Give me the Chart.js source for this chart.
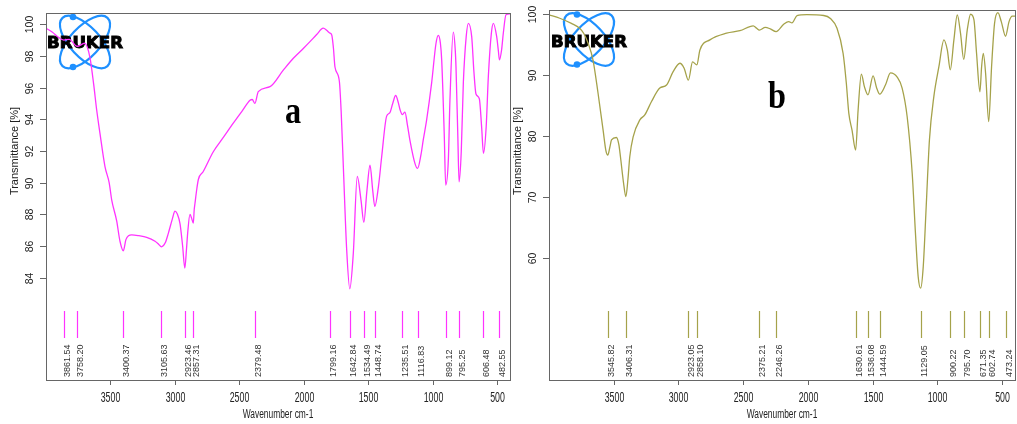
<!DOCTYPE html>
<html>
<head>
<meta charset="utf-8">
<title>FTIR spectra a / b</title>
<script src="https://cdn.jsdelivr.net/npm/chart.js@4.4.1/dist/chart.umd.min.js"></script>
<style>
body{margin:0;background:#fff;}
#wrap{position:relative;width:1017px;height:424px;overflow:hidden;background:#fff;}
canvas{position:absolute;top:0;}
</style>
</head>
<body>
<div id="wrap">
<canvas id="chart_a" width="512" height="424" style="left:0"></canvas>
<canvas id="chart_b" width="505" height="424" style="left:512px"></canvas>
</div>
<script>
// spectrum a
var wavenumber_a = [4000,3950,3907,3861,3820,3758,3700,3659,3630,3607,3581,3542,3510,3490,3452,3426,3400,3380,3360,3335,3280,3219,3154,3125,3105,3075,3051,3020,2999,2980,2960,2940,2923,2910,2901,2883,2872,2857,2850,2844,2830,2818,2780,2702,2620,2547,2480,2417,2400,2379,2353,2262,2159,2081,2000,1952,1900,1849,1820,1799,1783,1770,1758,1724,1710,1693,1667,1643,1616,1585,1556,1534,1510,1486,1465,1449,1420,1396,1357,1333,1310,1287,1265,1253,1235,1215,1195,1177,1137,1117,1090,1073,1047,1008,974,956,940,930,910,899,878,866,840,825,819,805,795,778,762,740,723,697,680,664,638,620,606,585,568,545,529,503,490,482,465,452,431,400];
var transmittance_a = [99.75,99.5,99.2,99.0,99.05,98.6,98.8,97.9,96.2,94.6,93.1,91.0,90.0,88.9,87.6,86.3,85.7,86.4,86.65,86.7,86.65,86.55,86.3,86.1,85.95,86.2,86.8,87.7,88.2,88.0,87.4,86.0,84.6,85.8,86.8,88.0,87.8,87.45,88.3,88.7,89.6,90.2,90.7,91.95,92.9,93.75,94.5,95.2,95.25,95.0,95.75,96.06,97.1,97.85,98.5,98.9,99.35,99.75,99.6,99.45,99.32,98.5,97.3,96.4,94.5,91.0,85.75,83.3,85.5,90.4,88.9,87.5,89.5,91.1,89.5,88.5,89.8,91.6,94.2,94.4,95.0,95.5,95.0,94.6,94.3,94.45,93.6,92.7,91.2,90.9,91.8,92.7,93.95,96.3,98.8,99.3,98.8,97.75,93.0,89.85,91.5,95.2,99.5,98.4,97.3,93.0,90.05,92.0,96.3,99.2,100.06,99.2,97.0,95.6,95.3,93.5,91.85,93.5,96.7,99.4,100.06,99.2,98.3,97.75,98.4,99.43,100.6,100.65];
var peaks_a = [3861.54,3758.20,3400.37,3105.63,2923.46,2857.31,2379.48,1799.16,1642.84,1534.49,1448.74,1235.51,1116.83,899.12,795.25,606.48,482.55];

// spectrum b
var wavenumber_b = [4000,3917,3827,3763,3730,3698,3660,3621,3582,3560,3546,3530,3517,3479,3460,3448,3425,3406,3390,3376,3350,3298,3260,3208,3144,3092,3041,2989,2956,2923,2891,2858,2834,2757,2628,2525,2422,2396,2375,2329,2290,2246,2187,2148,2123,2084,2007,1878,1826,1775,1728,1703,1684,1659,1631,1612,1587,1563,1536,1496,1470,1445,1401,1362,1310,1272,1233,1194,1169,1148,1129,1109,1086,1061,1027,988,949,923,900,872,846,821,796,769,743,717,697,671,658,645,627,603,581,558,532,506,473,446,421,400];
var transmittance_b = [99.9,99.35,98.5,97.7,96.8,95.25,92.5,87.05,81.0,77.6,76.9,78.2,79.4,79.8,78.6,76.65,72.5,70.1,73.0,76.65,79.9,82.7,83.5,85.7,87.9,88.4,90.6,91.97,91.15,89.2,92.2,91.7,94.15,95.8,96.9,97.3,98.1,97.7,97.4,97.85,97.6,97.15,98.35,98.8,98.6,99.77,99.93,99.8,99.3,97.7,93.6,88.7,83.8,81.0,77.75,84.3,90.2,88.1,86.8,89.9,88.0,86.9,88.4,90.4,89.7,87.9,83.2,73.9,64.1,57.0,55.1,58.6,68.5,79.4,86.5,91.4,95.8,94.15,90.9,95.8,99.9,96.9,92.6,97.4,100.0,99.1,93.6,87.3,91.4,93.6,90.3,82.4,91.4,98.5,100.26,98.8,96.4,98.8,99.7,99.7];
var peaks_b = [3545.82,3406.31,2923.05,2858.10,2375.21,2246.26,1630.61,1536.08,1444.59,1129.05,900.22,795.70,671.35,602.74,473.24];

var xTicks = [3500,3000,2500,2000,1500,1000,500];
var yTicks_a = [84,86,88,90,92,94,96,98,100];
var yTicks_b = [60,70,80,90,100];

var fontSans = '"Liberation Sans", Arial, sans-serif';

function makePoints(xs, ys){
    var pts = [];
    for(var i = 0; i < xs.length; i++){
        pts.push({x: xs[i], y: ys[i]});
    }
    return pts;
}

function drawText(ctx, str, x, y, font, align, baseline, rot, sx){
    ctx.save();
    ctx.translate(x, y);
    if(rot) ctx.rotate(rot);
    ctx.scale(sx || 1, 1);
    ctx.font = font;
    ctx.textAlign = align;
    ctx.textBaseline = baseline;
    ctx.fillText(str, 0, 0);
    ctx.restore();
}

function drawLogo(ctx, cx, cy, tx, ty){
    ctx.save();
    ctx.strokeStyle = '#1e90ff';
    ctx.fillStyle = '#1e90ff';
    ctx.lineWidth = 2.2;
    [0.75, -0.75].forEach(function(r){
        ctx.beginPath();
        ctx.ellipse(cx, cy, 15, 33, r, 0, Math.PI * 2);
        ctx.stroke();
    });
    [[-12, -25], [-12, 25]].forEach(function(d){
        ctx.beginPath();
        ctx.arc(cx + d[0], cy + d[1], 3.3, 0, Math.PI * 2);
        ctx.fill();
    });
    ctx.font = 'bold 15px "DejaVu Sans", sans-serif';
    var w = ctx.measureText('BRUKER').width;
    ctx.translate(tx, ty);
    ctx.scale(76 / w, 1);
    ctx.fillStyle = '#000';
    ctx.strokeStyle = '#000';
    ctx.lineWidth = 0.9;
    ctx.textAlign = 'center';
    ctx.textBaseline = 'alphabetic';
    ctx.fillText('BRUKER', 0, 0);
    ctx.strokeText('BRUKER', 0, 0);
    ctx.restore();
}

var ftirPlugin = {
    id: 'ftir',
    beforeDatasetsDraw: function(chart, args, opt){
        drawLogo(chart.ctx, opt.logo[0], opt.logo[1], opt.logo[2], opt.logo[3]);
    },
    afterDraw: function(chart, args, opt){
        var ctx = chart.ctx;
        var a = chart.chartArea;
        var xs = chart.scales.x, ys = chart.scales.y;
        ctx.save();
        // frame
        ctx.strokeStyle = '#666';
        ctx.lineWidth = 1;
        ctx.strokeRect(Math.round(a.left) + 0.5, Math.round(a.top) + 0.5, Math.round(a.right - a.left), Math.round(a.bottom - a.top));
        // x ticks
        ctx.fillStyle = '#222';
        xTicks.forEach(function(v){
            var px = Math.round(xs.getPixelForValue(v)) + 0.5;
            ctx.beginPath();
            ctx.moveTo(px, a.bottom);
            ctx.lineTo(px, a.bottom + 5);
            ctx.stroke();
            drawText(ctx, String(v), px, 398, '14px ' + fontSans, 'center', 'middle', 0, 0.63);
        });
        drawText(ctx, 'Wavenumber cm-1', (a.left + a.right) / 2, 415, '12px ' + fontSans, 'center', 'middle', 0, 0.7);
        // y ticks
        opt.yTicks.forEach(function(v){
            var py = Math.round(ys.getPixelForValue(v)) + 0.5;
            ctx.beginPath();
            ctx.moveTo(a.left - 6, py);
            ctx.lineTo(a.left, py);
            ctx.stroke();
            drawText(ctx, String(v), a.left - 16, py, '10.5px ' + fontSans, 'center', 'middle', -Math.PI / 2, 1);
        });
        drawText(ctx, 'Transmittance [%]', a.left - 31, 151, '11px ' + fontSans, 'center', 'middle', -Math.PI / 2, 1);
        // peak markers
        ctx.strokeStyle = opt.color;
        ctx.lineWidth = 1.2;
        ctx.fillStyle = '#333';
        opt.peaks.forEach(function(v){
            var px = Math.round(xs.getPixelForValue(v)) + 0.5;
            ctx.beginPath();
            ctx.moveTo(px, 311);
            ctx.lineTo(px, 338);
            ctx.stroke();
            drawText(ctx, v.toFixed(2), px + 3, 377, '9px ' + fontSans, 'left', 'middle', -Math.PI / 2, 1);
        });
        // panel letter
        ctx.fillStyle = '#000';
        drawText(ctx, opt.letter[0], opt.letter[1], opt.letter[2], 'bold 38px "Liberation Serif", serif', 'center', 'alphabetic', 0, 0.85);
        ctx.restore();
    }
};

function getConfig(points, color, yMin, yMax, pad, extra){
    return {
        type: 'line',
        data: {
            datasets: [{
                data: points,
                borderColor: color,
                borderWidth: 1.3,
                pointRadius: 0,
                fill: false,
                cubicInterpolationMode: 'monotone'
            }]
        },
        options: {
            responsive: false,
            animation: false,
            devicePixelRatio: 1,
            layout: {padding: pad},
            scales: {
                x: {type: 'linear', reverse: true, min: 400, max: 4000, display: false},
                y: {type: 'linear', min: yMin, max: yMax, display: false}
            },
            plugins: {
                legend: {display: false},
                tooltip: {enabled: false},
                ftir: extra
            }
        },
        plugins: [ftirPlugin]
    };
}

var chartA = new Chart(document.getElementById('chart_a').getContext('2d'),
    getConfig(makePoints(wavenumber_a, transmittance_a), '#ff33ff', 77.54, 100.71,
        {left: 46, right: 2, top: 13, bottom: 44},
        {color: '#ff33ff', yTicks: yTicks_a, peaks: peaks_a, letter: ['a', 293, 123], logo: [85, 42, 85, 48]}));

var chartB = new Chart(document.getElementById('chart_b').getContext('2d'),
    getConfig(makePoints(wavenumber_b, transmittance_b), '#a5a24a', 40.05, 100.7,
        {left: 37, right: 2, top: 10, bottom: 44},
        {color: '#a5a24a', yTicks: yTicks_b, peaks: peaks_b, letter: ['b', 265, 108], logo: [77, 39.5, 77, 46.5]}));
</script>
</body>
</html>
